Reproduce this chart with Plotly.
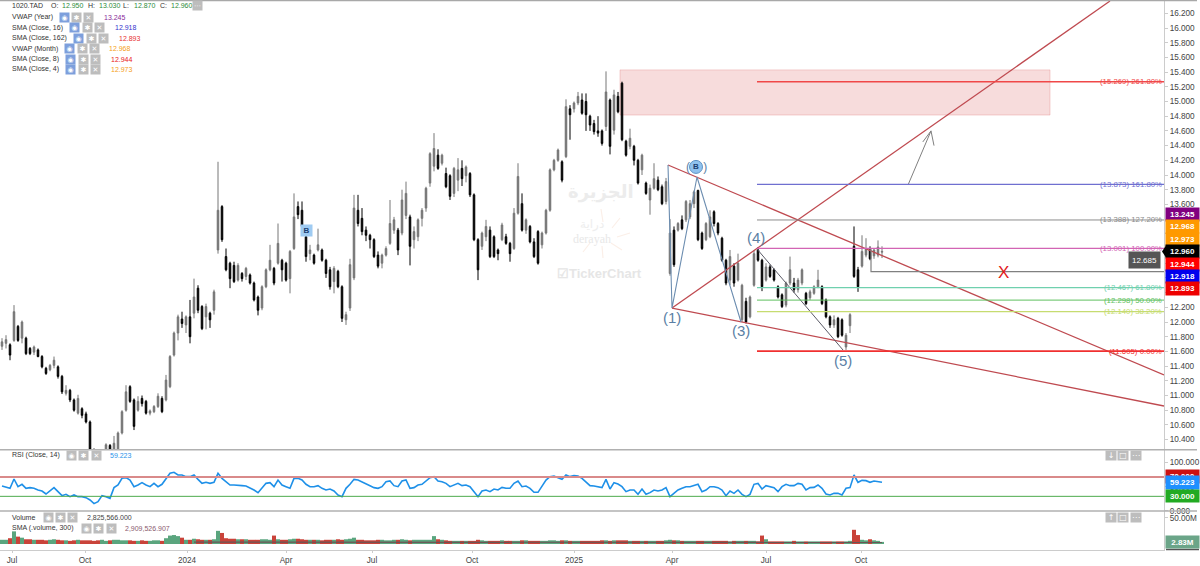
import plotly.graph_objects as go

opens = [11.67,11.71,11.69,11.75,11.94,11.78,11.78,11.64,11.59,11.62,
11.53,11.37,11.35,11.41,11.39,11.26,11.03,11.07,10.94,10.76,
10.82,10.75,10.64,10.26,10.12,10.03,10.26,10.32,10.2,10.26,
10.49,10.80,11.12,10.94,10.80,10.96,10.92,10.76,10.78,10.85,
10.96,10.94,11.12,11.55,11.85,12.04,11.96,12.07,12.12,12.46,
12.21,12.07,12.12,12.16,12.98,13.57,12.89,12.80,12.77,12.57,
12.66,12.62,12.64,12.53,12.34,12.19,12.48,12.71,12.73,12.80,
12.84,12.80,12.59,13.0,13.57,
13.52,13.16,12.93,12.91,12.98,12.98,12.84,12.71,12.55,12.69,
12.48,12.03,12.19,12.60,13.52,13.41,13.25,13.18,13.12,12.91,
12.80,12.91,13.07,13.25,13.25,13.21,13.45,13.43,13.12,13.16,
13.41,13.55,13.89,14.12,14.27,14.16,14.02,13.99,13.75,13.93,
14.09,13.99,14.02,13.73,13.12,13.03,13.16,13.25,13.16,12.98,
13.12,13.16,13.07,13.0,13.48,13.61,13.25,13.3,13.09,13.23,
13.05,13.21,13.52,14.07,14.2,14.18,14.25,14.9,14.9,14.98,
15.02,15.0,14.8,14.7,14.6,
14.6,14.66,15.02,14.61,15.07,15.25,14.46,14.39,14.39,14.2,
14.07,13.89,13.66,13.82,13.93,13.84,13.64,12.66,13.25,13.25,
13.39,13.39,13.43,13.61,13.79,13.21,13.12,13.16,13.5,13.34,
13.14,12.84,12.57,12.76,12.57,12.03,12.28,12.07,12.5,12.98,
12.84,12.57,12.75,12.71,12.48,12.37,12.23,12.53,12.53,12.44,
12.53,12.39,12.33,12.39,12.48,12.48,12.30,12.07,11.96,12.05,
12.03,11.66,11.95,13.03,12.71,12.76,12.91,12.98,12.9,12.91,
12.95]

closes = [11.73,11.76,11.55,12.14,11.75,12.0,11.57,11.57,11.66,11.53,
11.39,11.30,11.41,11.48,11.26,11.05,11.07,10.94,10.80,10.96,
10.73,10.64,10.26,10.12,10.02,10.10,10.33,10.2,10.35,10.49,
10.78,11.05,10.92,10.58,10.92,10.89,10.76,10.79,10.85,10.99,
10.78,11.21,11.53,11.85,12.07,11.98,12.07,11.80,12.34,12.16,
11.91,12.21,12.03,12.41,13.52,13.12,12.71,12.59,12.55,12.77,
12.59,12.73,12.53,12.30,12.16,12.48,12.71,12.84,12.53,13.07,
12.71,12.57,12.96,13.43,13.46,
13.30,12.89,12.98,12.80,13.05,12.84,12.66,12.48,12.73,12.48,
12.05,12.10,12.78,13.55,13.34,13.23,13.18,13.12,12.89,12.76,
12.91,13.0,13.34,13.39,12.98,13.66,13.75,13.03,13.23,13.39,
13.52,13.82,14.29,14.36,14.09,14.27,13.84,13.71,14.09,14.07,
13.95,14.11,13.73,13.12,12.71,13.21,13.30,12.89,12.89,12.93,
13.32,13.07,12.93,13.48,13.98,13.25,13.39,13.09,12.89,12.80,
13.21,13.52,14.07,14.2,14.34,13.93,14.93,14.82,14.98,15.07,
14.84,14.82,14.68,14.59,14.57,
14.43,15.13,14.39,15.09,14.86,14.48,14.27,14.5,14.2,13.89,
14.27,13.75,13.82,13.95,13.80,13.61,13.91,13.21,12.78,13.34,
13.27,13.64,13.61,13.77,13.12,13.0,13.34,13.43,13.34,13.21,
12.84,12.53,12.89,12.53,12.80,12.5,12.0,12.34,12.93,12.84,
12.48,12.75,12.62,12.57,12.34,12.21,12.53,12.71,12.44,12.57,
12.71,12.25,12.41,12.48,12.57,12.25,12.07,11.96,12.03,11.8,
11.82,11.82,12.1,12.62,12.48,12.96,13.0,12.86,12.98,13.02,
12.96]

highs = [11.78,11.82,11.71,12.23,11.96,12.02,11.80,11.66,11.68,11.64,
11.55,11.39,11.43,11.53,11.41,11.28,11.14,11.09,10.96,11.01,
10.84,10.78,10.66,10.28,10.15,10.14,10.35,10.34,10.45,10.51,
10.80,11.14,11.14,10.96,10.99,11.0,10.94,10.81,10.87,11.03,
10.99,11.28,11.55,11.87,12.10,12.14,12.09,12.30,12.59,12.50,
12.23,12.25,12.14,12.44,14.18,13.59,13.0,12.82,12.82,12.80,
12.68,12.75,12.66,12.55,12.36,12.50,12.73,13.05,12.75,13.34,
12.86,12.82,12.98,13.75,13.64,
13.64,13.30,13.05,12.93,13.27,13.0,12.86,12.75,12.76,12.71,
12.5,12.14,12.86,13.73,13.73,13.55,13.3,13.2,13.14,12.96,
12.93,13.03,13.66,13.43,13.28,13.80,13.91,13.46,13.3,13.41,
13.55,13.84,14.31,14.57,14.35,14.29,14.1,14.01,14.11,14.23,
14.2,14.13,14.04,13.75,13.14,13.23,13.39,13.3,13.18,13.0,
13.35,13.2,13.09,13.55,14.16,13.75,13.41,13.32,13.14,13.25,
13.23,13.54,14.09,14.22,14.36,14.2,15.03,14.95,15.0,15.13,
15.11,15.11,14.82,14.75,14.8,
14.62,15.41,15.04,15.16,15.13,15.27,14.48,14.63,14.41,14.22,
14.29,13.91,13.87,14.16,13.98,13.87,13.96,13.4,13.3,13.36,
13.45,13.66,13.66,13.79,13.80,13.23,13.36,13.52,13.52,13.36,
13.16,12.86,12.98,12.8,12.93,12.52,12.33,12.36,12.98,13.02,
12.86,12.8,12.78,12.73,12.5,12.39,12.55,12.89,12.6,12.6,
12.73,12.41,12.44,12.5,12.71,12.5,12.32,12.09,12.09,12.07,
12.05,11.85,12.12,13.3,12.75,13.18,13.14,13.03,13.0,13.11,
13.03]

lows = [11.62,11.64,11.48,11.73,11.73,11.71,11.55,11.55,11.55,11.52,
11.37,11.28,11.33,11.37,11.23,11.02,11.0,10.91,10.78,10.74,
10.69,10.62,10.25,10.08,9.98,10.0,10.2,10.17,10.18,10.24,
10.47,10.78,10.90,10.53,10.78,10.85,10.74,10.73,10.76,10.83,
10.76,10.92,11.10,11.53,11.75,11.92,11.85,11.71,12.05,12.12,
11.89,11.9,11.92,12.10,12.93,13.09,12.69,12.46,12.53,12.55,
12.55,12.57,12.51,12.28,12.09,12.16,12.46,12.69,12.5,12.78,
12.55,12.55,12.39,12.98,13.40,
13.28,12.82,12.84,12.78,12.96,12.82,12.60,12.44,12.39,12.46,
12.0,11.96,12.15,12.57,13.30,13.18,13.1,13.0,12.87,12.73,
12.73,12.89,13.05,13.2,12.91,13.18,13.4,12.77,13.0,13.1,
13.3,13.5,13.84,14.05,14.07,14.13,13.82,13.66,13.70,13.78,
13.85,13.90,13.7,13.1,12.57,12.98,13.1,12.87,12.87,12.84,
13.1,13.05,12.82,12.98,13.46,13.23,13.2,13.07,12.87,12.78,
13.0,13.19,13.50,14.05,14.18,13.9,14.23,14.48,14.85,14.95,
14.82,14.6,14.6,14.55,14.52,
14.4,14.6,14.28,14.55,14.84,14.46,14.25,14.35,14.13,13.87,
14.0,13.73,13.46,13.8,13.78,13.59,13.6,12.63,12.75,13.23,
13.25,13.36,13.40,13.55,13.1,12.98,13.1,13.14,13.3,13.18,
12.82,12.5,12.5,12.48,12.55,12.0,11.98,12.05,12.48,12.82,
12.42,12.55,12.6,12.55,12.32,12.19,12.2,12.5,12.4,12.4,
12.5,12.23,12.3,12.37,12.46,12.23,12.05,11.92,11.92,11.78,
11.8,11.62,11.85,12.6,12.41,12.74,12.88,12.84,12.86,12.88,
12.87]

rsi = [51.4,48.6,46.6,65.9,50.0,54.9,46.6,48,46.6,43.1,41,34.8,41,48,39.7,31.4,34.1,29.3,32.8,29.3,
29.3,27.2,22.4,14.8,18.9,31.4,29.3,25.8,48,53.5,67.3,68.7,63.8,50,53.5,58.3,53.5,50,56.9,50,
54.9,67.3,77.7,79.7,74.2,74.2,70.8,70.8,74.2,65.2,56.9,59,56.9,59,77.7,67.3,60.4,53.5,53.5,53.5,
52.1,51.4,48,43.1,37.6,46.6,56.9,58.3,50,63.8,53.5,50,46.6,67.3,67.3,63.8,54.9,50,50,52.1,
46.6,43.1,45.2,41,32.8,29.3,46.6,54.9,65.2,63.8,60.4,56.9,52.1,48,46.6,50,60.4,61.8,52.1,50,
61.8,63.8,46.6,48,53.5,54.9,61.8,68.7,70.8,61.8,60.4,56.9,50,53.5,56.9,52.1,53.5,50,39.7,29.3,
41,43.1,39.7,45.2,43.1,48.6,46.6,46.6,56.9,61.8,50,51.4,46.6,38.3,38.3,50,63.8,70.8,72.1,68.7,
65.2,74.2,70.8,72.8,72.1,67.3,60.4,52.1,51.4,50,48,65.2,45.2,58.3,55.6,50,39.7,43.1,43.1,34.1,
45.2,34.1,37.6,43.1,41,43.1,48,29.3,36.2,43.1,46.6,50,50,52.1,54.9,39.7,43.1,50,50,48,
43.1,31.4,41,36.2,43.1,34.1,29.3,34.1,54.9,56.9,45.2,52.1,50,48,39.7,50,54.9,52.1,52.1,56.9,
54.9,43.1,48,48.6,53.5,46.6,34.8,32.8,36.2,36.2,32.8,46.6,48,74.2,59,63.1,62.5,59,61.8,60.4,59.2]

volume_m = [8,8,11,24,14,12,9,9,8,8,8,7,8,9,8,7,7,6,7,8,7,
7,7,6,7,8,6,7,8,8,7,7,7,6,6,7,6,6,7,7,6,
11,16,17,15,12,8,8,10,9,8,8,8,9,25,21,11,10,10,9,9,9,8,8,8,9,9,8,16,9,8,8,9,10,10,
9,8,8,8,8,7,8,8,8,9,8,9,10,12,8,8,7,7,7,8,8,7,7,8,8,
9,8,7,8,8,8,8,8,15,9,8,7,6,6,6,6,6,6,6,8,
7,6,6,6,6,7,6,6,6,6,7,7,6,6,6,6,6,7,7,6,7,7,6,6,6,6,6,6,6,6,
7,7,6,7,7,7,7,6,6,6,6,6,6,6,6,6,7,8,7,7,6,6,6,6,6,6,6,6,6,6,6,6,5,6,6,6,6,6,6,5,
16,9,5,5,5,5,5,5,6,5,5,5,5,5,5,5,5,5,5,5,5,5,6,27,17,8,7,9,7,6,4]

sma_sessions = [48,70,90,110,130,150,170,190,210,220]
sma_volume_m = [3.6,3.5,3.4,3.2,3.1,3.0,2.95,2.9,2.9,2.91]

tick_sessions = [2.5,20.75,46.25,71,92.5,117.5,143,167.5,191,214.75]
tick_labels = ["Jul","Oct","2024","Apr","Jul","Oct","2025","Apr","Jul","Oct"]

fib_values = [15.269,13.873,13.388,13.001,12.467,12.298,12.140,11.605]
fib_labels = ["(15.269) 261.80%","(13.873) 161.80%","(13.388) 127.20%","(13.001) 100.00%",
              "(12.467) 61.80%","(12.298) 50.00%","(12.140) 38.20%","(11.605) 0.00%"]
fib_colors = ["#f04848","#6f6fd0","#8c8c8c","#d264b4","#6fd0ae","#5fc05f","#c6dc70","#f03030"]
fib_widths = [1.5,1.3,1,1.3,1.3,1,1.3,1.8]

wedge_upper_s, wedge_upper_p = [166.5,290.5],[14.136,11.279]
wedge_rise_s, wedge_rise_p = [167.5,277],[12.19,16.367]
wedge_lower_s, wedge_lower_p = [167.5,290.5],[12.19,10.857]
wave_s, wave_p = [188.75,210.25],[12.993,11.619]
zigzag_s, zigzag_p = [166.5,167.5,173.75,184.75],[14.136,12.19,13.973,12.0]
support_s, support_p = [217.25,217.25,290.5],[13.0,12.685,12.685]
arrow_s, arrow_p = [226.5,232.25],[13.864,14.6]
head_s, head_p = [230.2,232.25,233],[14.45,14.6,14.40]

W, H = 1200, 566
PW, PH = 1164, 550
def px(x): return x / PW
def py(y): return (PH - y) / PH

sessions = list(range(len(closes)))
vol_colors = ["#5aa57e" if c >= o else "#c9433a" for o, c in zip(opens, closes)]

fig = go.Figure()
fig.add_trace(go.Candlestick(x=sessions, open=opens, high=highs, low=lows, close=closes,
    increasing=dict(line=dict(color="#777777", width=1), fillcolor="#666666"),
    decreasing=dict(line=dict(color="#000000", width=1), fillcolor="#000000"),
    whiskerwidth=0, hoverinfo="skip", yaxis="y", showlegend=False))
for s, p, color, width in [(wedge_upper_s, wedge_upper_p, "#bf4a50", 1.3),
                           (wedge_rise_s, wedge_rise_p, "#bf4a50", 1.3),
                           (wedge_lower_s, wedge_lower_p, "#bf4a50", 1.3),
                           (wave_s, wave_p, "#5a5a66", 1),
                           (zigzag_s, zigzag_p, "#6c8db0", 1.1),
                           (support_s, support_p, "#808080", 1.2),
                           (arrow_s, arrow_p, "#808080", 1),
                           (head_s, head_p, "#808080", 1)]:
    fig.add_trace(go.Scatter(x=s, y=p, mode="lines", line=dict(color=color, width=width),
                             hoverinfo="skip", showlegend=False, yaxis="y"))
fig.add_trace(go.Scatter(x=[173.5], y=[14.11], mode="markers",
    marker=dict(size=13, color="#8fc2ee", line=dict(color="#5f93c5", width=1)),
    hoverinfo="skip", showlegend=False, yaxis="y"))
fig.add_trace(go.Scatter(x=sessions, y=rsi, mode="lines", line=dict(color="#1e90e8", width=1.6),
    hoverinfo="skip", showlegend=False, yaxis="y2"))
fig.add_trace(go.Bar(x=sessions, y=volume_m, marker=dict(color=vol_colors, line=dict(width=0)),
    width=1.0, hoverinfo="skip", showlegend=False, yaxis="y3"))
fig.add_trace(go.Scatter(x=sma_sessions, y=sma_volume_m, mode="lines",
    line=dict(color="#6a5656", width=1.2), hoverinfo="skip", showlegend=False, yaxis="y3"))

shapes = []
def pline(x0, y0, x1, y1, color, width=1):
    shapes.append(dict(type="line", xref="paper", yref="paper", x0=px(x0), y0=py(y0), x1=px(x1), y1=py(y1),
                       line=dict(color=color, width=width)))

shapes.append(dict(type="rect", xref="x", yref="y", x0=154.5, x1=262, y0=14.816, y1=15.43,
                   fillcolor="rgba(226,120,120,0.26)", line=dict(color="rgba(226,130,130,0.35)", width=1), layer="below"))
for val, color, w in zip(fib_values, fib_colors, fib_widths):
    shapes.append(dict(type="line", xref="x", yref="y", x0=188.75, x1=290.5, y0=val, y1=val,
                       line=dict(color=color, width=w)))
shapes.append(dict(type="line", xref="x", yref="y2", x0=-0.5, x1=290.5, y0=70, y1=70,
                   line=dict(color="#d98a8a", width=2)))
shapes.append(dict(type="line", xref="x", yref="y2", x0=-0.5, x1=290.5, y0=30, y1=30,
                   line=dict(color="#4caa4c", width=1)))
pline(0, 0.5, 1197, 0.5, "#a8a8a8", 1.5)
pline(0, 449.7, 1197, 449.7, "#b0b0b0", 1.5)
pline(0, 511, 1197, 511, "#b0b0b0", 1.5)
pline(1166, 549.5, 1199, 549.5, "#555555", 1.5)
shapes.append(dict(type="path", xref="paper", yref="paper",
    path=f"M {px(1166)} {py(245.5)} L {px(1162)} {py(251.5)} L {px(1166)} {py(257.5)} Z",
    fillcolor="#000000", line=dict(width=0)))
for x0, y0, x1, y1 in [(601,209,603,222),(620,218,612,228),(630,233,617,237),(622,250,611,243),
                       (603,258,602,246),(583,252,590,243)]:
    pline(x0, y0, x1, y1, "#fbefe8", 1.2)

ann = []
FONT = "Liberation Sans"
def text(x, y, s, color="#333333", size=7, anchor="left", **kw):
    xx = x - 2 if anchor == "left" else x
    ann.append(dict(xref="paper", yref="paper", x=px(xx), y=py(y), text=s, showarrow=False, xanchor=anchor,
                    yanchor="middle", font=dict(family=kw.pop("family", FONT), size=size, color=color), **kw))
def box(x, y, s, bg, w=9, h=9, color="#ffffff", size=7, family="DejaVu Sans"):
    ann.append(dict(xref="paper", yref="paper", x=px(x), y=py(y), text=s, showarrow=False, xanchor="center",
                    yanchor="middle", width=w, height=h, bgcolor=bg, borderpad=0,
                    font=dict(family=family, size=size, color=color)))
def tag(y, s, bg, h=12.5):
    box(1182.5, y, "<b>" + s + "</b>", bg, w=33, h=h, size=8, family=FONT)
def icons(y, xs, active):
    box(xs[0], y, "◉", "#7d9fdc" if active else "#bdbdbd")
    box(xs[1], y, "✱", "#bdbdbd")
    box(xs[2], y, "✕", "#bdbdbd")

text(12, 6, "1020.TAD")
for x, s in [(51, "O:"), (88, "H:"), (123, "L:"), (159.5, "C:")]:
    text(x, 6, s)
for x, s in [(62, "12.950"), (99, "13.030"), (134, "12.870"), (171, "12.960")]:
    text(x, 6, s, color="#2e8b3a")
box(197, 6, "⋯", "#bdbdbd", w=9, h=9)

rows = [(17.3, "VWAP (Year)", [64, 76.5, 88.5], 104, "13.245", "#8a2a9a"),
        (27.5, "SMA (Close, 16)", [74.5, 87, 99], 114.5, "12.918", "#3333cc"),
        (38.3, "SMA (Close, 162)", [78, 91, 103], 118.5, "12.893", "#e83030"),
        (48.7, "VWAP (Month)", [69.5, 82, 94], 109, "12.968", "#f5a020"),
        (59.3, "SMA (Close, 8)", [70, 83, 95], 110.5, "12.944", "#e82020"),
        (69.3, "SMA (Close, 4)", [70, 83, 95], 110.5, "12.973", "#f5a020")]
for y, label, xs, vx, val, col in rows:
    text(12, y, label)
    icons(y, xs, True)
    text(vx, y, val, color=col)

text(12, 455.3, "RSI (Close, 14)")
icons(455.3, [71, 84, 96], False)
text(110, 455.3, "59.223", color="#2a93ea")
text(12, 517, "Volume")
icons(517, [48, 60, 72], False)
text(87, 517, "2,825,566.000", color="#444444")
text(12, 528, "SMA (.volume, 300)")
icons(528, [86, 98, 111], False)
text(125, 528, "2,909,526.907", color="#8a5a6e")

for y, glyphs in [(455.7, ["↓", "□", "⋯"]), (517, ["↑", "□", "⋯"])]:
    for x, g in zip([1111, 1123, 1135.5], glyphs):
        box(x, y, g, "#bdbdbd", w=10, h=9, size=8)

for val, lab, col in zip(fib_values, fib_labels, fib_colors):
    ann.append(dict(xref="paper", yref="y", x=px(1164), y=val, text=lab, showarrow=False, xanchor="right",
                    yanchor="middle", font=dict(family=FONT, size=7.8, color=col)))

tag(214.3, "13.245", "#800080")
tag(226.7, "12.968", "#ff9900")
tag(239, "12.973", "#ff9900")
tag(251.4, "12.960", "#000000")
tag(264, "12.944", "#ff0000")
tag(276, "12.918", "#0000ee")
tag(288.3, "12.893", "#ee0000")
box(1144.5, 260, "12.685", "#555555", w=31, h=16, size=8, family=FONT)
tag(476.7, "70.000", "#cc1111")
tag(482, "59.223", "#1e90ff", h=13)
tag(496, "30.000", "#22aa22", h=12)
tag(542.3, "2.83M", "#6ba588", h=12)

def dtext(s, p, t, color, size, **kw):
    ann.append(dict(xref="x", yref="y", x=s, y=p, text=t, showarrow=False, xanchor="center", yanchor="middle",
                    font=dict(family=FONT, size=size, color=color), **kw))
dtext(167.5, 12.068, "(1)", "#5b7fa5", 15)
dtext(184.75, 11.88, "(3)", "#5b7fa5", 15)
dtext(188.5, 13.156, "(4)", "#5b7fa5", 15)
dtext(210.25, 11.483, "(5)", "#5b7fa5", 15)
dtext(173.5, 14.11, "(&nbsp;&nbsp;&nbsp;&nbsp;)", "#5b7fa5", 12)
dtext(173.5, 14.11, "<b>B</b>", "#1c3f70", 8)
dtext(76, 13.25, "<b>B</b>", "#1c3f70", 8, bgcolor="#9fcbf2", width=11, height=11, borderpad=0)
dtext(250.25, 12.68, "X", "#e21a1a", 17)

text(601, 192, "<b>الجزيرة</b>", color="#ececec", size=18, anchor="center", family="DejaVu Sans")
text(592, 225, "دراية", color="#eeeeee", size=12, anchor="center", family="DejaVu Sans")
text(592, 239, "derayah", color="#e8e8e8", size=12, anchor="center", family="Liberation Sans Narrow")
text(600, 273, "<b>☑TickerChart</b>", color="#e6e6e6", size=13, anchor="center")

TICK = dict(family=FONT, size=8.2, color="#444444")
AX = dict(side="right", anchor="x", showgrid=False, zeroline=False, showline=True, linecolor="#cccccc", linewidth=1,
          ticks="outside", ticklen=3, tickcolor="#cccccc", tickfont=TICK, fixedrange=True)
fig.update_layout(
    width=W, height=H, margin=dict(l=0, r=W - PW, t=0, b=H - PH, pad=0, autoexpand=False),
    paper_bgcolor="#ffffff", plot_bgcolor="#ffffff", showlegend=False, barmode="overlay", boxgap=0.45,
    shapes=shapes, annotations=ann, font=dict(family=FONT),
    xaxis=dict(range=[-0.5, 290.5], anchor="y3", tickmode="array", tickvals=tick_sessions, ticktext=tick_labels,
               showgrid=False, zeroline=False, showline=True, linecolor="#cccccc", ticks="outside", ticklen=2,
               tickcolor="#cccccc", tickfont=TICK, rangeslider=dict(visible=False), fixedrange=True),
    yaxis=dict(domain=[(PH - 449.7) / PH, 1], range=[14 - (449.7 - 175) / 73.5, 14 + 175 / 73.5],
               tickmode="linear", tick0=10, dtick=0.2, tickformat=".3f", **AX),
    yaxis2=dict(domain=[(PH - 511) / PH, (PH - 449.7) / PH], range=[(510.8 - 511) / 0.4825, (510.8 - 449.7) / 0.4825],
                tickmode="array", tickvals=[0, 50, 100], ticktext=["0.000", "50.000", "100.000"], **AX),
    yaxis3=dict(domain=[0, (PH - 511) / PH], range=[-(PH - 544) * 1.9, (544 - 511) * 1.9],
                tickmode="array", tickvals=[50], ticktext=["50.00M"], **AX),
)
fig.write_html("out.html", config=dict(displayModeBar=False), post_script="document.body.style.margin='0';")
